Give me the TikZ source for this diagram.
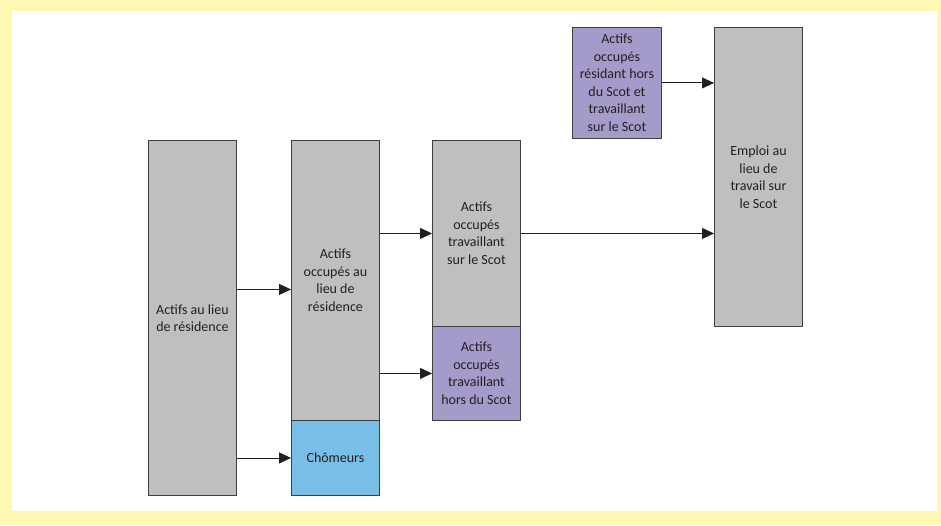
\documentclass[tikz,border=0pt]{standalone}
\usepackage{fontspec}
\setmainfont{Carlito}
\usetikzlibrary{arrows.meta}
\definecolor{framey}{RGB}{255,248,176}
\definecolor{boxgrey}{RGB}{191,191,193}
\definecolor{boxpurple}{RGB}{165,155,202}
\definecolor{boxblue}{RGB}{120,190,230}
\definecolor{edge}{RGB}{64,64,64}
\definecolor{ink}{RGB}{35,31,32}

\begin{document}
\begin{tikzpicture}[x=1pt,y=1pt,
    bar/.style={draw=edge,line width=0.9pt,fill=boxgrey,anchor=north west,
      minimum width=88pt,inner sep=0pt,align=center,
      font=\fontsize{14}{17.5}\selectfont,text=ink},
    arr/.style={draw=ink,line width=0.9pt,-{Triangle[length=12pt,width=11pt]}}]
        % frame
        \fill[framey] (0,0) rectangle (941,525);
        \fill[white] (12,14) rectangle (937,514);

        % bars
        \node[bar,minimum height=355pt] (actres) at (148,385) {Actifs au lieu\\de résidence};
        \node[bar,minimum height=280pt] (occres) at (291,385) {Actifs\\occupés au\\lieu de\\résidence};
        \node[bar,minimum height=75pt,fill=boxblue] (chom) at (291,105) {Chômeurs};
        \node[bar,minimum height=186pt] (occscot) at (432,385) {Actifs\\occupés\\travaillant\\sur le Scot};
        \node[bar,minimum height=94pt,fill=boxpurple] (occhors) at (432,199) {Actifs\\occupés\\travaillant\\hors du Scot};
        \node[bar,minimum height=111pt,minimum width=89pt,fill=boxpurple] (reshors) at (572,498) {Actifs\\occupés\\résidant hors\\du Scot et\\travaillant\\sur le Scot};
        \node[bar,minimum height=299pt] (emploi) at (714,498) {Emploi au\\lieu de\\travail sur\\le Scot};

        % flows
        \draw[arr] ([yshift=-9pt]actres.east |- occres.west) -- ([yshift=-9pt]occres.west);
        \draw[arr] (actres.east |- chom.west) -- (chom.west);
        \draw[arr] (occres.east |- occscot.west) -- (occscot.west);
        \draw[arr] (occres.east |- occhors.west) -- (occhors.west);
        \draw[arr] (occscot.east) -- (occscot.east -| emploi.west);
        \draw[arr] (reshors.east) -- (reshors.east -| emploi.west);
    \end{tikzpicture}
\end{document}
